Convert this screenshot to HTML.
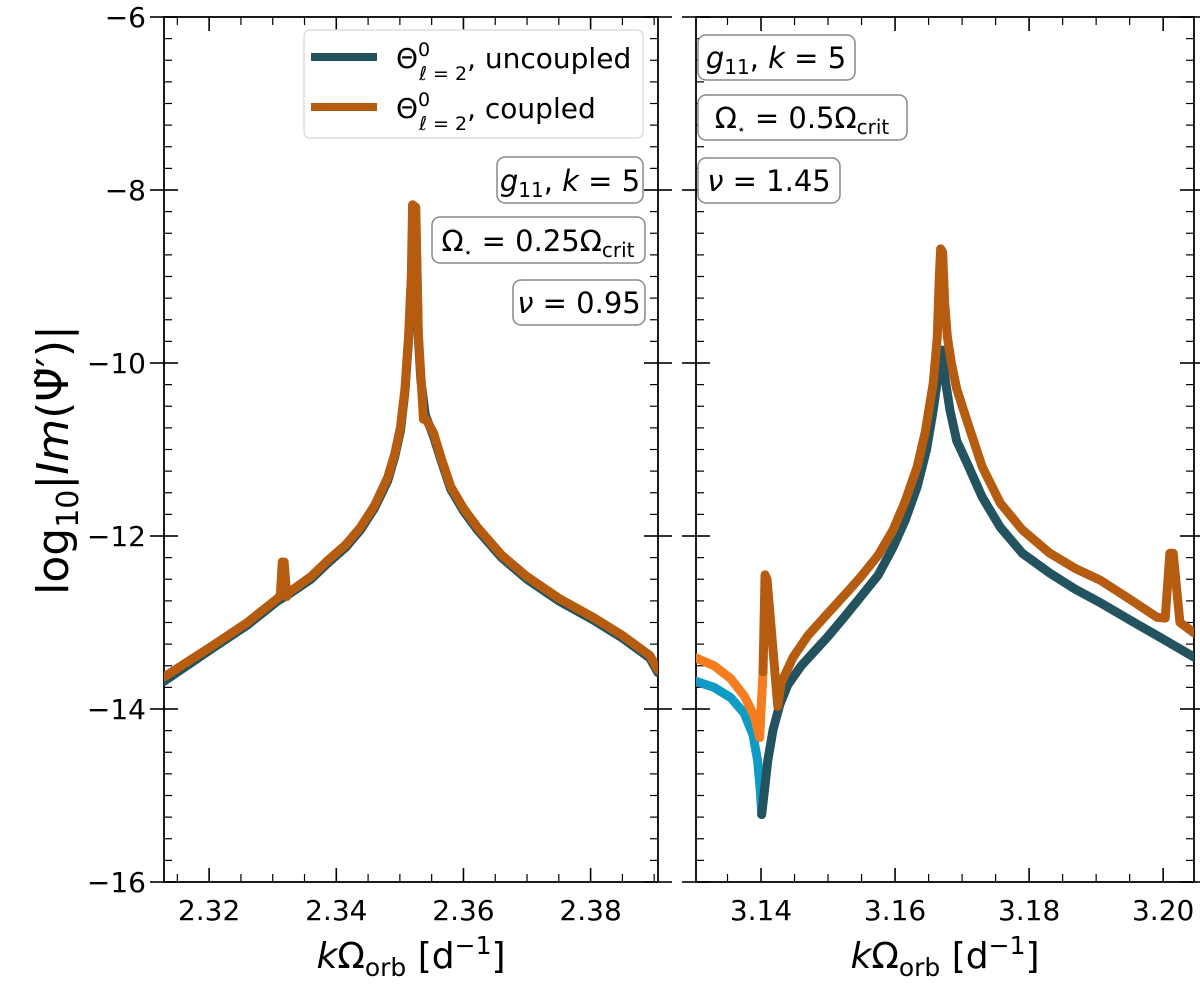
<!DOCTYPE html>
<html><head><meta charset="utf-8">
<style>
html,body{margin:0;padding:0;background:#fff;}
svg text{font-family:"DejaVu Sans","Liberation Sans",sans-serif;fill:#000;}
</style></head>
<body>
<svg id="fig" width="1200" height="990" viewBox="0 0 1200 990" xmlns="http://www.w3.org/2000/svg">
<defs>
<clipPath id="clipL"><rect x="164" y="17" width="494" height="865"/></clipPath>
<clipPath id="clipR"><rect x="696" y="17" width="498" height="865"/></clipPath>
</defs>
<g id="axes"></g>
<g id="lines"></g>
<g id="annot">
  <text transform="translate(68,460) rotate(-90)" text-anchor="middle" font-size="44">log<tspan font-size="30" dy="10">10</tspan><tspan dy="-10">|</tspan><tspan font-style="italic">Im</tspan>(Ψ̃′)|</text>
  <text x="411" y="968" text-anchor="middle" font-size="36"><tspan font-style="italic">k</tspan>Ω<tspan font-size="25" dy="8">orb</tspan><tspan dy="-8"> [d</tspan><tspan font-size="25" dy="-14">−1</tspan><tspan dy="14">]</tspan></text>
  <text x="945" y="968" text-anchor="middle" font-size="36"><tspan font-style="italic">k</tspan>Ω<tspan font-size="25" dy="8">orb</tspan><tspan dy="-8"> [d</tspan><tspan font-size="25" dy="-14">−1</tspan><tspan dy="14">]</tspan></text>

  <g>
    <rect x="304" y="30" width="339" height="108" rx="6" fill="#fff" stroke="#ddd" stroke-width="1.5"/>
    <line x1="311" y1="57" x2="377" y2="57" stroke="#23535f" stroke-width="8"/>
    <text x="396" y="68" font-size="28">Θ<tspan font-size="19" dy="-12">0</tspan><tspan font-size="19" dx="-11" dy="24" font-style="italic">ℓ</tspan><tspan font-size="19" dy="0"> = 2</tspan><tspan dy="-12">, uncoupled</tspan></text>
    <line x1="311" y1="107" x2="377" y2="107" stroke="#b65c10" stroke-width="8"/>
    <text x="396" y="118" font-size="28">Θ<tspan font-size="19" dy="-12">0</tspan><tspan font-size="19" dx="-11" dy="24" font-style="italic">ℓ</tspan><tspan font-size="19" dy="0"> = 2</tspan><tspan dy="-12">, coupled</tspan></text>
  </g>

  <g>
    <rect x="497" y="157" width="146" height="46" rx="8" fill="#fff" stroke="#888" stroke-width="1.5"/>
    <text x="570" y="191" text-anchor="middle" font-size="29"><tspan font-style="italic">g</tspan><tspan font-size="20" dy="6">11</tspan><tspan dy="-6">, </tspan><tspan font-style="italic">k</tspan> = 5</text>
  </g>
  <g>
    <rect x="432" y="217" width="213" height="46" rx="8" fill="#fff" stroke="#888" stroke-width="1.5"/>
    <text x="538" y="251" text-anchor="middle" font-size="29">Ω<tspan font-size="14" dy="6">⋆</tspan><tspan dy="-6"> = 0.25Ω</tspan><tspan font-size="20" dy="6">crit</tspan></text>
  </g>
  <g>
    <rect x="513" y="280" width="132" height="45" rx="8" fill="#fff" stroke="#888" stroke-width="1.5"/>
    <text x="579" y="313" text-anchor="middle" font-size="29"><tspan font-style="italic">ν</tspan> = 0.95</text>
  </g>

  <g>
    <rect x="698" y="35" width="157" height="45" rx="8" fill="#fff" stroke="#888" stroke-width="1.5"/>
    <text x="776" y="68" text-anchor="middle" font-size="29"><tspan font-style="italic">g</tspan><tspan font-size="20" dy="6">11</tspan><tspan dy="-6">, </tspan><tspan font-style="italic">k</tspan> = 5</text>
  </g>
  <g>
    <rect x="698" y="95" width="209" height="45" rx="8" fill="#fff" stroke="#888" stroke-width="1.5"/>
    <text x="802" y="128" text-anchor="middle" font-size="29">Ω<tspan font-size="14" dy="6">⋆</tspan><tspan dy="-6"> = 0.5Ω</tspan><tspan font-size="20" dy="6">crit</tspan></text>
  </g>
  <g>
    <rect x="698" y="158" width="142" height="45" rx="8" fill="#fff" stroke="#888" stroke-width="1.5"/>
    <text x="769" y="191" text-anchor="middle" font-size="29"><tspan font-style="italic">ν</tspan> = 1.45</text>
  </g>
</g>
</svg>
<script>
// ---- data ----
const yTicks = [-6, -8, -10, -12, -14, -16];
const yTickLabels = ["−6", "−8", "−10", "−12", "−14", "−16"];
const xTicksLeft = [2.32, 2.34, 2.36, 2.38];
const xTickLabelsLeft = ["2.32", "2.34", "2.36", "2.38"];
const xTicksRight = [3.14, 3.16, 3.18, 3.20];
const xTickLabelsRight = ["3.14", "3.16", "3.18", "3.20"];

const leftUncX = [2.3129,2.3203,2.3260,2.3308,2.3324,2.3360,2.3387,2.3415,2.3438,2.3460,2.3481,2.3492,2.3501,2.3508,2.3514,2.3518,2.3521,2.3525,2.3529,2.3533,2.3540,2.3553,2.3565,2.3580,2.3600,2.3622,2.3660,2.3700,2.3750,2.3804,2.3850,2.3893,2.3906];
const leftUncY = [-13.68,-13.31,-13.03,-12.75,-12.68,-12.5,-12.31,-12.13,-11.93,-11.68,-11.36,-11.08,-10.78,-10.33,-9.7,-9.05,-8.3,-8.35,-9.7,-10.2,-10.6,-10.85,-11.13,-11.46,-11.71,-11.93,-12.25,-12.5,-12.75,-12.97,-13.18,-13.41,-13.58];
const leftCplX = [2.3129,2.3203,2.3260,2.3308,2.3312,2.3315,2.3318,2.3322,2.3324,2.3360,2.3387,2.3415,2.3438,2.3460,2.3481,2.3492,2.3501,2.3508,2.3514,2.3518,2.3520,2.3525,2.3529,2.3533,2.3536,2.3537,2.3541,2.3553,2.3565,2.3580,2.3600,2.3622,2.3660,2.3700,2.3750,2.3804,2.3850,2.3893,2.3906];
const leftCplY = [-13.63,-13.28,-13.0,-12.72,-12.68,-12.3,-12.3,-12.7,-12.66,-12.47,-12.28,-12.1,-11.9,-11.65,-11.32,-11.05,-10.74,-10.3,-9.65,-9.0,-8.17,-8.2,-9.65,-10.15,-10.5,-10.65,-10.65,-10.81,-11.1,-11.43,-11.68,-11.9,-12.22,-12.47,-12.72,-12.94,-13.15,-13.38,-13.55];

const rightUncLightX = [3.1303,3.1330,3.1355,3.1375,3.1388,3.1395,3.1399,3.1401];
const rightUncLightY = [-13.68,-13.75,-13.87,-14.05,-14.3,-14.6,-14.95,-15.22];
const rightUncX = [3.1401,3.1405,3.1410,3.1418,3.1428,3.1440,3.1460,3.1480,3.1499,3.1525,3.1548,3.1575,3.1597,3.1615,3.1633,3.1647,3.1657,3.1665,3.1670,3.1675,3.1682,3.1692,3.1707,3.1730,3.1757,3.1790,3.1831,3.1870,3.1906,3.1950,3.1995,3.2046];
const rightUncY = [-15.22,-14.95,-14.6,-14.24,-13.95,-13.72,-13.5,-13.33,-13.17,-12.93,-12.71,-12.45,-12.13,-11.82,-11.43,-11.0,-10.54,-10.1,-9.85,-10.2,-10.55,-10.9,-11.15,-11.55,-11.9,-12.2,-12.43,-12.62,-12.77,-12.97,-13.17,-13.4];
const rightCplLightX = [3.1303,3.1330,3.1355,3.1375,3.1390,3.1398,3.1403];
const rightCplLightY = [-13.41,-13.5,-13.65,-13.85,-14.08,-14.33,-13.57];
const rightCplX = [3.1403,3.1406,3.1409,3.1425,3.1430,3.1448,3.1470,3.1499,3.1525,3.1548,3.1575,3.1597,3.1615,3.1633,3.1645,3.1657,3.1663,3.1666,3.1668,3.1671,3.1674,3.1678,3.1684,3.1692,3.1707,3.1730,3.1757,3.1790,3.1831,3.1870,3.1906,3.1950,3.1991,3.2003,3.2010,3.2015,3.2025,3.2046];
const rightCplY = [-13.57,-12.45,-12.5,-13.97,-13.7,-13.4,-13.15,-12.9,-12.68,-12.48,-12.22,-11.93,-11.6,-11.2,-10.8,-10.23,-9.7,-9.0,-8.68,-8.72,-9.3,-9.7,-10.0,-10.3,-10.66,-11.2,-11.62,-11.93,-12.2,-12.38,-12.51,-12.73,-12.94,-12.95,-12.2,-12.2,-13.0,-13.12];

// ---- axes ----
const NS = "http://www.w3.org/2000/svg";
const Y0 = 17, Y1 = 882;
const yScale = v => Y0 + (-6 - v) / 10 * (Y1 - Y0);
const panels = [
  {name:"left", x0:164, x1:658, d0:2.3129, d1:2.3906, ticks:xTicksLeft, labels:xTickLabelsLeft, ylab:true, clip:"clipL"},
  {name:"right", x0:696, x1:1194, d0:3.1303, d1:3.2046, ticks:xTicksRight, labels:xTickLabelsRight, ylab:false, clip:"clipR"}
];
panels.forEach(p => { p.xs = v => p.x0 + (v - p.d0) / (p.d1 - p.d0) * (p.x1 - p.x0); });

function mk(tag, attrs, parent) {
  const e = document.createElementNS(NS, tag);
  for (const k in attrs) e.setAttribute(k, attrs[k]);
  parent.appendChild(e);
  return e;
}
const axesG = document.getElementById('axes');
const linesG = document.getElementById('lines');

panels.forEach(p => {
  const g = mk('g', {}, axesG);
  
  
  for (let v = -6; v >= -16.001; v -= 0.25) {
    const y = yScale(v);
    const major = Math.abs(v - Math.round(v)) < 1e-6 && Math.round(v) % 2 === 0;
    const L = major ? 14 : 8;
    mk('line', {x1:p.x0, y1:y, x2:p.x0 + L, y2:y, stroke:'#000', 'stroke-width':major?1.6:1.2}, g);
    mk('line', {x1:p.x1, y1:y, x2:p.x1 - L, y2:y, stroke:'#000', 'stroke-width':major?1.6:1.2}, g);
    if (major) {
      mk('line', {x1:p.x0, y1:y, x2:p.x0 - 14, y2:y, stroke:'#000', 'stroke-width':1.6}, g);
      mk('line', {x1:p.x1, y1:y, x2:p.x1 + 14, y2:y, stroke:'#000', 'stroke-width':1.6}, g);
    }
  }
  const start = Math.ceil(p.d0 / 0.005) * 0.005;
  for (let v = start; v <= p.d1; v += 0.005) {
    const x = p.xs(v);
    const major = Math.abs(v / 0.02 - Math.round(v / 0.02)) < 1e-4;
    const L = major ? 14 : 8;
    mk('line', {x1:x, y1:Y1, x2:x, y2:Y1 - L, stroke:'#000', 'stroke-width':major?1.6:1.2}, g);
    mk('line', {x1:x, y1:Y0, x2:x, y2:Y0 + L, stroke:'#000', 'stroke-width':major?1.6:1.2}, g);
  }
  p.ticks.forEach((v, i) => {
    const x = p.xs(v);
    const t = mk('text', {x:x, y:Y1 + 38, 'text-anchor':'middle', 'font-size':28}, g);
    
    
    t.textContent = p.labels[i];
  });
  if (p.ylab) {
    yTicks.forEach((v, i) => {
      const t = mk('text', {x:p.x0 - 18, y:yScale(v) + 10, 'text-anchor':'end', 'font-size':28}, g);
      
      
      t.textContent = yTickLabels[i];
    });
  }
  const fr = mk('rect', {x:p.x0, y:Y0, width:p.x1 - p.x0, height:Y1 - Y0, fill:'none', stroke:'#000', 'stroke-width':1.8}, g);
  
  
});

function drawLine(p, xs, ys, color, name) {
  let d = '';
  xs.forEach((v, i) => { d += (i ? 'L' : 'M') + p.xs(v).toFixed(2) + ',' + yScale(ys[i]).toFixed(2); });
  const path = mk('path', {d:d, fill:'none', stroke:color, 'stroke-width':9, 'stroke-linejoin':'round', 'stroke-linecap':'round', 'clip-path':'url(#' + p.clip + ')'}, linesG);
  
  
}
const L = panels[0], R = panels[1];
drawLine(L, leftUncX, leftUncY, '#23535f', 'left-uncoupled-line');
drawLine(L, leftCplX, leftCplY, '#b65c10', 'left-coupled-line');
drawLine(R, rightUncLightX, rightUncLightY, '#0e9bc4', 'right-uncoupled-line-branch');
drawLine(R, rightUncX, rightUncY, '#23535f', 'right-uncoupled-line');
drawLine(R, rightCplLightX, rightCplLightY, '#f57c1f', 'right-coupled-line-branch');
drawLine(R, rightCplX, rightCplY, '#b65c10', 'right-coupled-line');
</script>
</body></html>
